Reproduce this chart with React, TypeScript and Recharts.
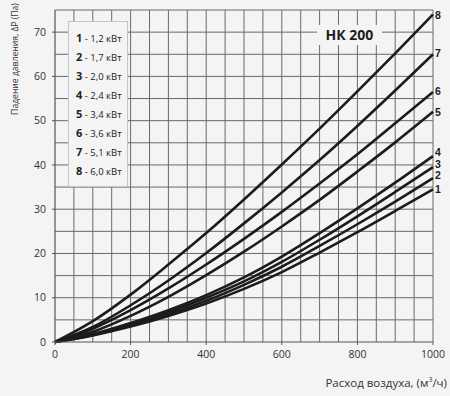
import React from 'react';
import { LineChart, Line, XAxis, YAxis, ReferenceLine, Legend } from 'recharts';

// airflow, m3/h
const airflow = [0, 100, 200, 300, 400, 500, 600, 700, 800, 900, 1000];

// pressure drop, Pa
const curve1 = [0, 1.5, 3.5, 5.9, 8.7, 12.0, 15.8, 20.2, 24.8, 29.6, 34.5];
const curve2 = [0, 1.6, 3.8, 6.3, 9.3, 12.9, 17.0, 21.7, 26.6, 31.7, 37.0];
const curve3 = [0, 1.7, 4.0, 6.8, 10.0, 13.7, 18.1, 23.1, 28.4, 33.9, 39.5];
const curve4 = [0, 1.8, 4.3, 7.2, 10.6, 14.6, 19.3, 24.6, 30.2, 36.0, 42.0];
const curve5 = [0, 2.3, 5.9, 10.2, 15.1, 20.4, 26.1, 32.1, 38.5, 45.1, 52.0];
const curve6 = [0, 3.0, 7.2, 12.1, 17.5, 23.3, 29.4, 35.8, 42.4, 49.4, 56.5];
const curve7 = [0, 3.4, 8.3, 13.9, 20.1, 26.8, 33.8, 41.1, 48.8, 56.8, 65.0];
const curve8 = [0, 4.7, 10.7, 17.5, 24.6, 32.2, 40.1, 48.2, 56.6, 65.2, 74.0];

const curves = [curve1, curve2, curve3, curve4, curve5, curve6, curve7, curve8];
const heaterPower = ['1,2', '1,7', '2,0', '2,4', '3,4', '3,6', '5,1', '6,0'];

const xTicks = [0, 200, 400, 600, 800, 1000];
const yTicks = [0, 10, 20, 30, 40, 50, 60, 70];
const xGrid = [50, 100, 150, 200, 250, 300, 350, 400, 450, 500, 550, 600, 650, 700, 750, 800, 850, 900, 950, 1000];
const yGrid = [5, 10, 15, 20, 25, 30, 35, 40, 45, 50, 55, 60, 65, 70, 75];

const data = airflow.map((q, i) => {
  const row: Record<string, number> = { q };
  curves.forEach((c, k) => {
    row['c' + (k + 1)] = c[i];
  });
  return row;
});

// vertical nudges for the end labels so 1..4 don't collide
const endLabelDy = [0, -3.7, -3, -3.6, 0, -1, -1, 1];

const BG = '#f4f4f4';
const GRID = '#6a6a6a';
const FONT = '"Open Sans", sans-serif';

const LegendBox = () => (
  <div
    style={{
      background: BG,
      border: '1px solid #c4c4c4',
      padding: '6px 5px 6px 7px',
      fontFamily: FONT,
      fontSize: 9.5,
      color: '#222',
    }}
  >
    {heaterPower.map((p, i) => (
      <div key={i} style={{ whiteSpace: 'nowrap', height: 19, lineHeight: '19px' }}>
        <b style={{ fontSize: 11 }}>{i + 1}</b> - {p} кВт
      </div>
    ))}
  </div>
);

const App = () => {
  return (
    <div style={{ position: 'relative', width: 450, height: 396, background: BG }}>
      <style>{'body{margin:0}'}</style>
      <LineChart
        width={450}
        height={396}
        data={data}
        margin={{ top: 10, right: 17, left: 25, bottom: 24 }}
      >
        {yGrid.map((v) => (
          <ReferenceLine key={'h' + v} y={v} stroke={GRID} strokeWidth={1} />
        ))}
        {xGrid.map((v) => (
          <ReferenceLine key={'v' + v} x={v} stroke={GRID} strokeWidth={1} />
        ))}
        <XAxis
          dataKey="q"
          type="number"
          domain={[0, 1000]}
          ticks={xTicks}
          interval={0}
          height={30}
          tickSize={3}
          axisLine={{ stroke: '#555', strokeWidth: 1.2 }}
          tickLine={{ stroke: '#555' }}
          tick={{ fontSize: 10.5, fill: '#333', fontFamily: FONT, dy: 4 }}
          label={{
            content: ({ viewBox }: any) => (
              <text
                x={viewBox.x + viewBox.width + 14}
                y={viewBox.y + 45}
                textAnchor="end"
                fontFamily={FONT}
                fontSize={11.5}
                fill="#333"
              >
                Расход воздуха, (м
                <tspan dy={-5} fontSize={7}>3</tspan>
                <tspan dy={5}>/ч)</tspan>
              </text>
            ),
          }}
        />
        <YAxis
          type="number"
          domain={[0, 75]}
          ticks={yTicks}
          interval={0}
          width={30}
          tickSize={3}
          axisLine={{ stroke: '#555', strokeWidth: 1.2 }}
          tickLine={{ stroke: '#555' }}
          tick={{ fontSize: 10.5, fill: '#333', fontFamily: FONT, dx: -4 }}
          label={{
            content: () => (
              <text
                x={15}
                y={59}
                transform="rotate(-90 15 59)"
                textAnchor="middle"
                dominantBaseline="central"
                fontFamily={FONT}
                fontSize={8.6}
                fill="#333"
              >
                Падение давления, ΔР (Па)
              </text>
            ),
          }}
        />
        <Legend
          layout="vertical"
          align="center"
          verticalAlign="middle"
          wrapperStyle={{ top: 21, left: 68, width: 'auto' }}
          content={() => <LegendBox />}
        />
        {curves.map((_, k) => (
          <Line
            key={k}
            dataKey={'c' + (k + 1)}
            name={heaterPower[k] + ' кВт'}
            type="monotone"
            stroke="#1c1c1c"
            strokeWidth={2.6}
            dot={false}
            activeDot={false}
            isAnimationActive={false}
            label={(props: any) =>
              props.index === airflow.length - 1 ? (
                <text
                  key={'l' + k}
                  x={props.x + 2}
                  y={props.y + endLabelDy[k] + 4}
                  fontFamily='"Liberation Sans", Arial, sans-serif'
                  fontWeight="bold"
                  fontSize={10.5}
                  fill="#1c1c1c"
                >
                  {k + 1}
                </text>
              ) : (
                <g key={'l' + k + '-' + props.index} />
              )
            }
          />
        ))}
      </LineChart>
      <div
        style={{
          position: 'absolute',
          left: 317,
          top: 25,
          width: 65,
          height: 20,
          background: BG,
          fontFamily: FONT,
          fontWeight: 700,
          fontSize: 14,
          lineHeight: '20px',
          textAlign: 'center',
          color: '#1c1c1c',
        }}
      >
        НК 200
      </div>
    </div>
  );
};

export default App;
